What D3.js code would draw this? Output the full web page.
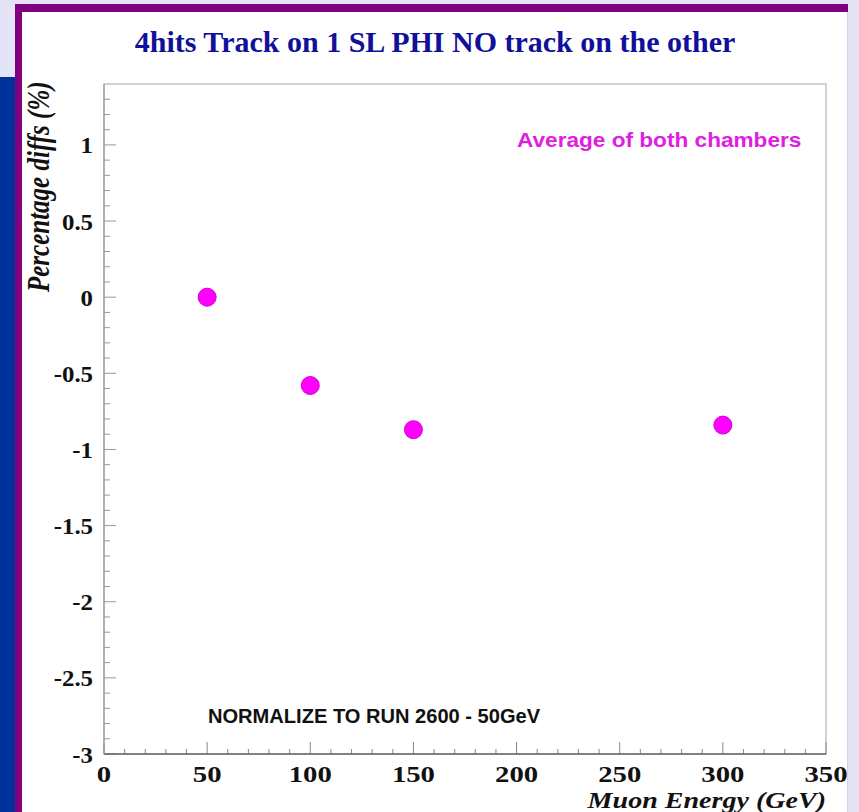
<!DOCTYPE html>
<html>
<head>
<meta charset="utf-8">
<script src="https://cdn.jsdelivr.net/npm/d3@7"></script>
<style>
  html, body { margin: 0; padding: 0; background: #e4e4f6; }
  svg { display: block; }
</style>
</head>
<body>
<script>
// Energy scan: percentage difference relative to the 50 GeV run
const energies = [50, 100, 150, 300];
const diffs = [0.0, -0.58, -0.87, -0.84];
const yTickValues = [-3, -2.5, -2, -1.5, -1, -0.5, 0, 0.5, 1];
const xTickValues = [0, 50, 100, 150, 200, 250, 300, 350];

const W = 859, H = 812;
const svg = d3.select("body").append("svg").attr("width", W).attr("height", H);

// page decoration: blue side bar, purple frame, white canvas
svg.append("rect").attr("x", 0).attr("y", 0).attr("width", W).attr("height", H).attr("fill", "#e4e4f6");
svg.append("rect").attr("x", 0).attr("y", 77).attr("width", 16).attr("height", H - 77).attr("fill", "#00309a");
svg.append("rect").attr("x", 15).attr("y", 4).attr("width", 833).attr("height", H).attr("fill", "#800080");
svg.append("rect").attr("x", 22).attr("y", 12).attr("width", 825).attr("height", H).attr("fill", "#ffffff");
svg.append("line").attr("x1", 847.5).attr("x2", 847.5).attr("y1", 12).attr("y2", H)
  .attr("stroke", "#e6c8ee").attr("stroke-width", 1);

const plotL = 104, plotR = 826, plotT = 84, plotB = 754;
const x = d3.scaleLinear().domain([0, 350]).range([plotL, plotR]);
const y = d3.scaleLinear().domain([-3, 1.4]).range([plotB, plotT]);

// text helper: places a string at (tx, ty) with an optional stretch
function label(parent, str, tx, ty, opt) {
  return parent.append("text")
    .attr("transform", `translate(${tx},${ty})${opt.rotate ? ` rotate(${opt.rotate})` : ""} scale(${opt.sx || 1},${opt.sy || 1})`)
    .attr("text-anchor", opt.anchor || "start")
    .attr("font-family", opt.family || "Liberation Serif, serif")
    .attr("font-weight", opt.weight || "bold")
    .attr("font-style", opt.style || "normal")
    .attr("font-size", opt.size)
    .attr("fill", opt.fill || "#111")
    .text(str);
}

// frame
svg.append("rect").attr("x", plotL).attr("y", plotT).attr("width", plotR - plotL).attr("height", plotB - plotT)
  .attr("fill", "none").attr("stroke", "#c4c4c4").attr("stroke-width", 1.5);

const g = svg.append("g");

// ticks drawn inside the frame
const xMinor = d3.range(0, 351, 10);
const yMinor = d3.range(-30, 14, 1).map(v => v / 10);
g.selectAll(".xminor").data(xMinor).join("line")
  .attr("x1", d => x(d)).attr("x2", d => x(d))
  .attr("y1", plotB).attr("y2", d => plotB - (d % 50 === 0 ? 12 : 5))
  .attr("stroke", "#888").attr("stroke-width", 1);
g.selectAll(".yminor").data(yMinor).join("line")
  .attr("y1", d => y(d)).attr("y2", d => y(d))
  .attr("x1", plotL).attr("x2", d => plotL + (Math.abs(d * 2 - Math.round(d * 2)) < 1e-6 ? 12 : 6))
  .attr("stroke", "#999").attr("stroke-width", 1);

// axis base lines
g.append("line").attr("x1", plotL).attr("x2", plotR).attr("y1", plotB).attr("y2", plotB)
  .attr("stroke", "#666").attr("stroke-width", 1.5);
g.append("line").attr("x1", plotL).attr("x2", plotL).attr("y1", plotT).attr("y2", plotB)
  .attr("stroke", "#999").attr("stroke-width", 1.2);

// tick labels
yTickValues.forEach(v => label(svg, String(v), 93, y(v) + 8.5, { size: 23, sx: 1.08, anchor: "end" }));
xTickValues.forEach(v => label(svg, String(v), x(v), 782, { size: 23, sx: 1.25, anchor: "middle" }));

// title
label(svg, "4hits Track on 1 SL PHI NO track on the other", 435, 52,
  { size: 30, anchor: "middle", fill: "#10109a" });

// axis titles
label(svg, "Muon Energy (GeV)", 826, 808, { size: 23, sx: 1.22, anchor: "end", style: "italic" });
label(svg, "Percentage diffs (%)", 49, 292, { size: 25, sy: 1.3, rotate: -90, style: "italic" });

// annotations
label(svg, "Average of both chambers", 517, 147,
  { size: 19.5, sx: 1.16, family: "Liberation Sans, Arial, sans-serif", fill: "#e020e0" });
label(svg, "NORMALIZE TO RUN 2600 - 50GeV", 208, 723,
  { size: 20.5, sx: 0.98, family: "Liberation Sans, Arial, sans-serif", fill: "#111" });

// data markers
svg.selectAll(".pt").data(energies.map((e, i) => [e, diffs[i]])).join("circle")
  .attr("cx", d => x(d[0])).attr("cy", d => y(d[1])).attr("r", 9)
  .attr("fill", "#ff00ff").attr("stroke", "#d000d0").attr("stroke-width", 1);
</script>
</body>
</html>
